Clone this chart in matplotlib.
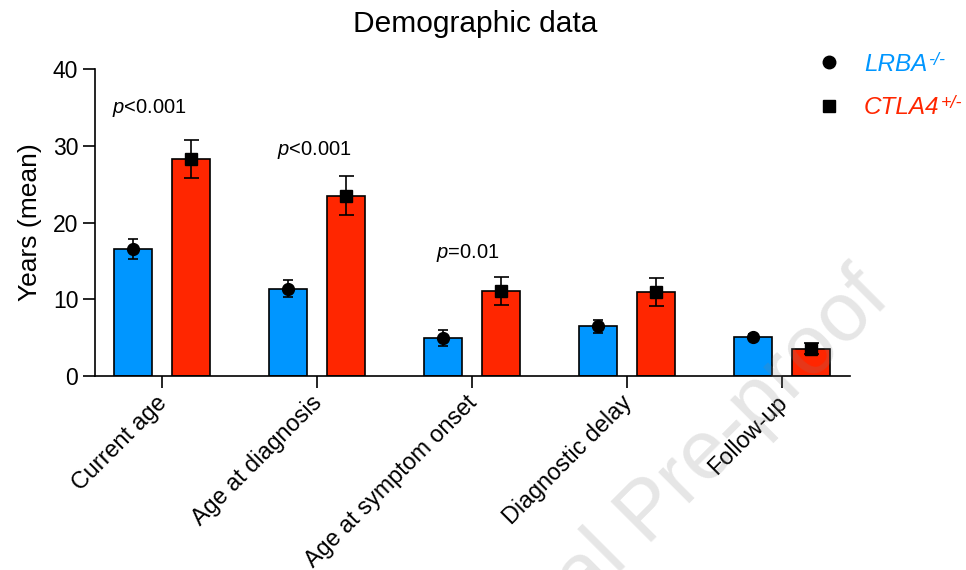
import matplotlib
matplotlib.use("Agg")
import matplotlib.pyplot as plt
import numpy as np
from matplotlib.lines import Line2D

plt.rcParams['font.family'] = ['Liberation Sans', 'DejaVu Sans']
plt.rcParams['mathtext.fontset'] = 'custom'
plt.rcParams['mathtext.rm'] = 'Liberation Sans'
plt.rcParams['mathtext.it'] = 'Liberation Sans:italic'

categories = ["Current age", "Age at diagnosis", "Age at symptom onset",
              "Diagnostic delay", "Follow-up"]
lrba_mean = [16.5, 11.4, 4.95, 6.45, 5.1]
lrba_err = [1.3, 1.1, 1.0, 0.8, 0.4]
ctla4_mean = [28.3, 23.5, 11.05, 10.95, 3.55]
ctla4_err = [2.5, 2.5, 1.8, 1.8, 0.7]
pvalue_labels = ["<0.001", "<0.001", "=0.01"]
pvalue_pos = [(-0.32, 34.9), (0.74, 29.4), (1.77, 16.0)]
group_names = ["LRBA", "CTLA4"]
group_sups = ["-/-", "+/-"]

blue = "#0096FF"
red = "#FF2600"

fig = plt.figure(figsize=(9.66, 5.70), dpi=100)
ax = fig.add_axes([95/966, 1-376/570, 755/966, 307/570])

x = np.arange(len(categories))
off = 0.187
w = 0.245

ax.bar(x - off, lrba_mean, width=w, color=blue, edgecolor="black", linewidth=1.2, zorder=2)
ax.bar(x + off, ctla4_mean, width=w, color=red, edgecolor="black", linewidth=1.2, zorder=2)
ax.errorbar(x - off, lrba_mean, yerr=lrba_err, fmt="o", color="black", ms=8.5,
            capsize=3.6, elinewidth=1.2, capthick=1.2, zorder=3)
ax.errorbar(x + off, ctla4_mean, yerr=ctla4_err, fmt="s", color="black", ms=8.5,
            capsize=5.4, elinewidth=1.2, capthick=1.2, zorder=3)

for lab, (px, py) in zip(pvalue_labels, pvalue_pos):
    ax.text(px, py, r"$\mathit{p}$" + lab, fontsize=14.5, ha="left", va="center")

ax.set_xlim(-0.432, 4.439)
ax.set_ylim(0, 40)
ax.set_yticks([0, 10, 20, 30, 40])
ax.set_xticks(x)
ax.set_xticklabels(categories, rotation=45, ha="right", va="center_baseline",
                   rotation_mode="anchor", fontsize=16.8)
ax.tick_params(axis="both", direction="out", length=8.5, width=1.2)
ax.tick_params(axis="y", labelsize=16.5, pad=3.5)
ax.tick_params(axis="x", labelsize=16.8, pad=7)
for s in ["top", "right"]:
    ax.spines[s].set_visible(False)
for s in ["left", "bottom"]:
    ax.spines[s].set_linewidth(1.2)
ax.set_ylabel("Years (mean)", fontsize=19, labelpad=8)

fig.text(475/966, 1-32/570, "Demographic data", fontsize=21.5, ha="center", va="baseline")

handles = [Line2D([], [], marker="o", color="black", linestyle="none", ms=9),
           Line2D([], [], marker="s", color="black", linestyle="none", ms=8.5)]
leg = ax.legend(handles, group_names, loc="upper left", bbox_to_anchor=(805/966, 1-53/570),
                bbox_transform=fig.transFigure, frameon=False,
                prop={"size": 17.5, "style": "italic"},
                labelcolor=[blue, red], handletextpad=0.43, labelspacing=0.84,
                borderaxespad=0, borderpad=0)

fig.text(892/966, 1-301/570, "Journal Pre-proof", fontsize=60, rotation=45,
         rotation_mode="anchor", ha="right", va="baseline", color="#808080", alpha=0.2,
         zorder=10)

fig.canvas.draw()
inv = fig.transFigure.inverted()
for t, sup, col in zip(leg.get_texts(), group_sups, [blue, red]):
    bb = t.get_window_extent()
    fx, fy = inv.transform((bb.x1 + 1, bb.y1 + 1))
    fig.text(fx, fy, sup, fontsize=13, style="italic", color=col, ha="left", va="top")

fig.savefig("out.png", dpi=100)
